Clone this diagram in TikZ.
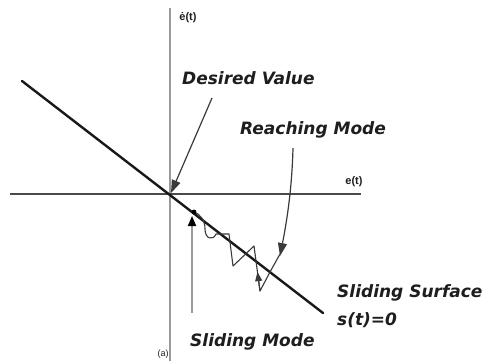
\documentclass[tikz,border=0pt]{standalone}
\usepackage{fontspec}
\setmainfont{Liberation Sans}
\newfontfamily\labfont{DejaVu Sans}
\usetikzlibrary{arrows.meta,calc}
\definecolor{axisgray}{HTML}{9A9A9A}
\definecolor{axisdark}{HTML}{4A4A4A}
\definecolor{trajcol}{HTML}{3A3A3A}
\definecolor{txtcol}{HTML}{1E1E1E}
\tikzset{
  lbl/.style={font=\labfont\bfseries\itshape\fontsize{17}{19}\selectfont, text=txtcol, inner sep=0pt, anchor=west},
  axlbl/.style={font=\bfseries\fontsize{11}{13}\selectfont, text=txtcol, inner sep=0pt},
  vaxis/.style={draw=axisgray, line width=2pt},
  haxis/.style={draw=axisdark, line width=2pt},
  surf/.style={draw=black!90, line width=2.4pt, line cap=round},
  ptr/.style={draw=trajcol, line width=1.2pt, -{Triangle[length=13pt,width=9pt]}},
  traj/.style={draw=trajcol, line width=1.1pt, line join=round},
  smode/.style={draw=axisgray, line width=1.8pt, -{Triangle[length=10pt,width=8pt,color=black]}},
}
\begin{document}
\begin{tikzpicture}[x=1pt,y=-1pt]
\useasboundingbox (0,0) rectangle (486,360);
\clip (0,0) rectangle (486,360);
\fill[white] (0,0) rectangle (486,360);
% named points
\coordinate (vt) at (170,8);
\coordinate (vb) at (170,362);
\coordinate (hl) at (10,194);
\coordinate (hr) at (361,194);
\coordinate (s1) at (22,81);
\coordinate (s2) at (323,313);
\coordinate (o) at (171,193);
% axes
\draw[vaxis] (vt) -- (vb);
\draw[haxis] (hl) -- (hr);
% sliding surface
\draw[surf] (s1) -- (s2);
% axis labels
\node[axlbl] (edot) at (188,18) {ė(t)};
\node[axlbl] (ee) at (354,182) {e(t)};
% desired value
\node[lbl] (dv) at (182,78) {Desired Value};
\coordinate (dvs) at (212,98);
\draw[ptr] (dvs) -- (o);
% reaching mode
\node[lbl] (rm) at (240,130) {Reaching Mode};
\coordinate (r0) at (293,148);
\coordinate (r1) at (280,256);
\draw[ptr] (r0) .. controls (292,185) and (288,215) .. (r1);
% trajectory
\coordinate (t0) at (280,254);
\coordinate (t1) at (270,272);
\coordinate (t2) at (260,291);
\coordinate (t3) at (254,246);
\coordinate (t4) at (233,266);
\coordinate (t5) at (229,234);
\coordinate (t6) at (216,234);
\coordinate (t7) at (194,212);
\draw[traj] (t0) -- (t1) -- (t2) -- (t3) -- (t4) -- (t5) -- (t6)
  .. controls (213,241) and (205,239) .. (205,229)
  .. controls (205,220) and (200,214) .. (t7);
\draw[traj, -{Triangle[length=9pt,width=7pt]}] (t2) -- ($(t2)!0.42!(t3)$);
\fill[black] (t7) circle (2.4pt);
% sliding mode
\node[lbl] (sm) at (190,342) {Sliding Mode};
\coordinate (sm0) at (192,313);
\coordinate (sm1) at (192,216);
\draw[smode] (sm0) -- (sm1);
% sliding surface label
\node[lbl] (ss) at (337,293) {Sliding Surface};
\node[lbl] (s0) at (337,320) {s(t)=0};
% caption
\node[font=\fontsize{9}{10}\selectfont, text=txtcol, inner sep=0pt, anchor=south] (cap) at (163,359) {(a)};
\end{tikzpicture}
\end{document}
